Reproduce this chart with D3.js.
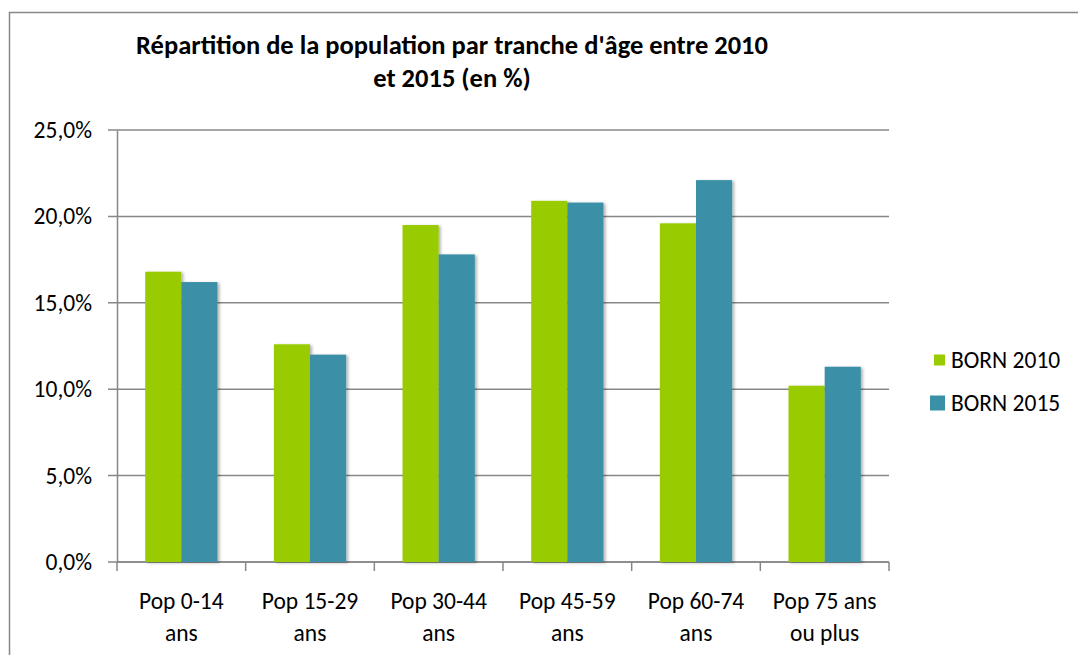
<!DOCTYPE html>
<html>
<head>
<meta charset="utf-8">
<script src="https://cdn.jsdelivr.net/npm/d3@7"></script>
<style>
  body { margin: 0; background: #fff; }
  svg { display: block; font-family: Carlito, Calibri, Lato, sans-serif; }
</style>
</head>
<body>
<svg width="1078" height="655"></svg>
<script>
// chart data
let categories = ["Pop 0-14|ans", "Pop 15-29|ans", "Pop 30-44|ans", "Pop 45-59|ans", "Pop 60-74|ans", "Pop 75 ans|ou plus"];
let seriesNames = ["BORN 2010", "BORN 2015"];
let born2010 = [16.8, 12.6, 19.5, 20.9, 19.6, 10.2];
let born2015 = [16.2, 12.0, 17.8, 20.8, 22.1, 11.3];
let yTicks = [0, 5, 10, 15, 20, 25];
let colors = ["#99cc00", "#3a90a7"];

let svg = d3.select("svg");
let margin = {top: 130, left: 117, right: 189, bottom: 93};
let width = 1078 - margin.left - margin.right;
let height = 655 - margin.top - margin.bottom;
let fontSize = 23.5;

let defs = svg.append("defs");
defs.append("filter").attr("id", "shadow")
    .attr("x", "-20%").attr("y", "-5%").attr("width", "150%").attr("height", "115%")
    .append("feDropShadow")
    .attr("dx", 2).attr("dy", 1).attr("stdDeviation", 1.6)
    .attr("flood-color", "#000").attr("flood-opacity", 0.3);

// outer chart border
svg.append("rect")
    .attr("x", 9.5).attr("y", 12.5)
    .attr("width", 1200).attr("height", 800)
    .attr("fill", "none").attr("stroke", "#878787").attr("stroke-width", 1.5);

// title
let title = svg.append("text")
    .attr("text-anchor", "middle")
    .attr("font-weight", "bold")
    .attr("font-size", 26.5)
    .attr("fill", "#000");
title.append("tspan").attr("x", 452).attr("y", 54).text("Répartition de la population par tranche d'âge entre 2010");
title.append("tspan").attr("x", 452).attr("y", 87).text("et 2015 (en %)");

let g = svg.append("g")
    .attr("transform", "translate(" + margin.left + "," + margin.top + ")");

let x = d3.scaleBand().domain(categories).range([0, width]).paddingInner(0).paddingOuter(0);
let x1 = d3.scaleBand().domain(seriesNames).range([0, x.bandwidth()]).paddingInner(0).paddingOuter(0.78);
let y = d3.scaleLinear().domain([0, 25]).range([height, 0]);

// gridlines
g.selectAll(".grid")
    .data(yTicks)
    .enter().append("line")
    .attr("class", "grid")
    .attr("x1", -9).attr("x2", width)
    .attr("y1", function (d) { return y(d); })
    .attr("y2", function (d) { return y(d); })
    .attr("stroke", "#878787").attr("stroke-width", 1.5);

// y axis
let yAxis = g.append("g")
    .call(d3.axisLeft(y).tickValues(yTicks).tickSize(0).tickPadding(25)
        .tickFormat(function (d) { return d.toFixed(1).replace(".", ",") + "%"; }));
yAxis.select(".domain").attr("stroke", "#878787").attr("stroke-width", 1.5);
yAxis.selectAll("text").attr("font-size", fontSize).attr("fill", "#000")
    .attr("font-family", "Carlito, Calibri, Lato, sans-serif");

// x axis
let xAxis = g.append("g")
    .attr("transform", "translate(0," + height + ")");
xAxis.append("line").attr("x1", 0).attr("x2", width)
    .attr("stroke", "#878787").attr("stroke-width", 1.5);
xAxis.selectAll(".xtick")
    .data(d3.range(categories.length + 1))
    .enter().append("line")
    .attr("class", "xtick")
    .attr("x1", function (i) { return i * x.step(); })
    .attr("x2", function (i) { return i * x.step(); })
    .attr("y1", 0).attr("y2", 9)
    .attr("stroke", "#878787").attr("stroke-width", 1.5);
let xLabels = xAxis.selectAll(".xlabel")
    .data(categories)
    .enter().append("text")
    .attr("class", "xlabel")
    .attr("text-anchor", "middle")
    .attr("font-size", fontSize)
    .attr("fill", "#000");
xLabels.each(function (d) {
    let parts = d.split("|");
    let t = d3.select(this);
    let cx = x(d) + x.bandwidth() / 2;
    parts.forEach(function (p, i) {
        t.append("tspan").attr("x", cx).attr("y", 47 + i * 32).text(p);
    });
});

// bars
let data = categories.map(function (c, i) {
    return {cat: c, values: [born2010[i], born2015[i]]};
});
let groups = g.selectAll(".group")
    .data(data)
    .enter().append("g")
    .attr("class", "group")
    .attr("transform", function (d) { return "translate(" + x(d.cat) + ",0)"; });
groups.selectAll("rect")
    .data(function (d) { return d.values.map(function (v, k) { return {name: seriesNames[k], value: v, k: k}; }); })
    .enter().append("rect")
    .attr("x", function (d) { return x1(d.name); })
    .attr("y", function (d) { return y(d.value); })
    .attr("width", x1.bandwidth())
    .attr("height", function (d) { return height - y(d.value); })
    .attr("fill", function (d) { return colors[d.k]; })
    .attr("filter", "url(#shadow)");

// legend
let legend = svg.append("g");
let legendSizes = [11, 15];
let legendY = [368, 411];
seriesNames.forEach(function (name, k) {
    let s = legendSizes[k];
    legend.append("rect")
        .attr("x", 945 - s).attr("y", legendY[k] - 8 - s / 2)
        .attr("width", s).attr("height", s)
        .attr("fill", colors[k]);
    legend.append("text")
        .attr("x", 951).attr("y", legendY[k])
        .attr("font-size", fontSize).attr("fill", "#000")
        .text(name);
});
</script>
</body>
</html>
